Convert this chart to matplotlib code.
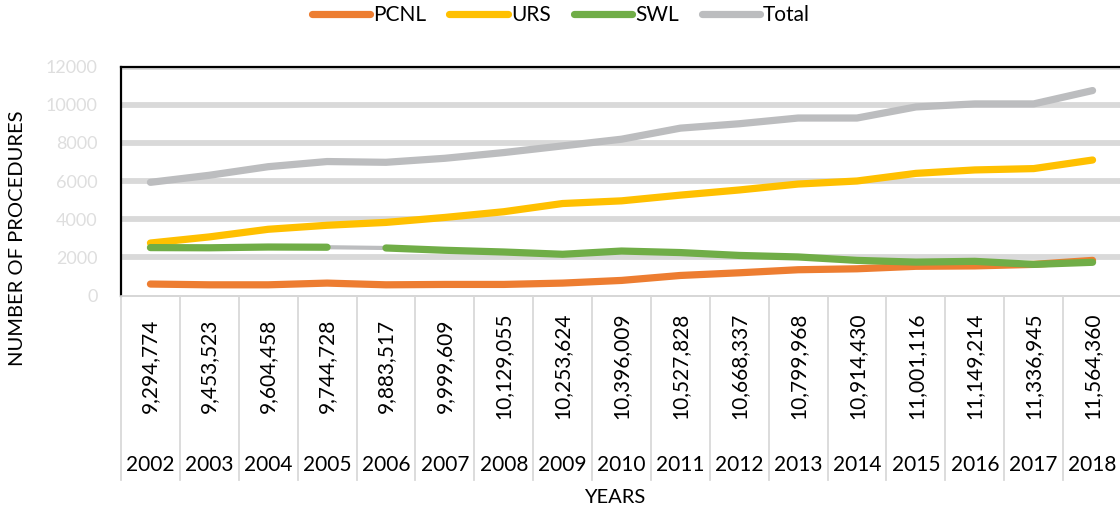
import matplotlib
matplotlib.use("Agg")
import matplotlib.pyplot as plt
from matplotlib.lines import Line2D
from matplotlib.transforms import blended_transform_factory

years = ["2002", "2003", "2004", "2005", "2006", "2007", "2008", "2009", "2010",
         "2011", "2012", "2013", "2014", "2015", "2016", "2017", "2018"]
population = ["9,294,774", "9,453,523", "9,604,458", "9,744,728", "9,883,517",
              "9,999,609", "10,129,055", "10,253,624", "10,396,009", "10,527,828",
              "10,668,337", "10,799,968", "10,914,430", "11,001,116", "11,149,214",
              "11,336,945", "11,564,360"]
pcnl = [600, 560, 560, 650, 560, 580, 580, 650, 790, 1050, 1190, 1350, 1400,
        1530, 1550, 1630, 1840]
urs = [2750, 3070, 3470, 3680, 3830, 4090, 4390, 4820, 4960, 5260, 5530, 5840,
       6000, 6400, 6580, 6650, 7100]
swl = [2510, 2500, 2540, 2530, 2490, 2370, 2280, 2160, 2330, 2250, 2100, 2020,
       1840, 1750, 1790, 1630, 1740]
total = [5930, 6300, 6750, 7020, 6980, 7190, 7490, 7840, 8190, 8770, 9000, 9300,
         9300, 9880, 10040, 10040, 10740]
y_ticks = [0, 2000, 4000, 6000, 8000, 10000, 12000]

plt.rcParams['font.family'] = ['Lato', 'DejaVu Sans']

W, H = 1120, 511
fig = plt.figure(figsize=(W / 100, H / 100), dpi=100)

def fx(x):
    return x / W

def fy(y):
    return 1 - y / H

ax = fig.add_axes([fx(121), fy(295.5), (1122 - 121) / W, (295.5 - 66.5) / H])
x = list(range(len(years)))

C_PCNL, C_URS, C_SWL, C_TOT = "#ED7D31", "#FFC000", "#70AD47", "#BCBDBF"
LW = 5.2

for t in y_ticks:
    if t > 0:
        ax.axhline(t, color="#D9D9D9", lw=4.2, zorder=0.5)

kw = dict(lw=LW, solid_capstyle="round", solid_joinstyle="round")
ax.plot(x, pcnl, color=C_PCNL, zorder=3, **kw)
ax.plot(x, urs, color=C_URS, zorder=4, **kw)
ax.plot(x[3:5], swl[3:5], color=C_TOT, lw=3.0, zorder=4.5)
ax.plot(x[:4], swl[:4], color=C_SWL, zorder=5, **kw)
ax.plot(x[4:], swl[4:], color=C_SWL, zorder=5, **kw)
ax.plot(x, total, color=C_TOT, zorder=6, **kw)

ax.set_xlim(-0.5, len(years) - 0.5)
ax.set_ylim(0, 12000)
ax.set_xticks([])
ax.set_yticks(y_ticks)
ax.set_yticklabels([str(t) for t in y_ticks], color="#DEDEDE", fontsize=13)
ax.tick_params(axis="y", length=0, pad=17)
ax.spines["right"].set_visible(False)
ax.spines["left"].set_color("black")
ax.spines["left"].set_linewidth(1.6)
ax.spines["top"].set_color("black")
ax.spines["top"].set_linewidth(1.6)
ax.spines["bottom"].set_color("#D0D0D0")
ax.spines["bottom"].set_linewidth(1.2)
for s in ax.spines.values():
    s.set_zorder(7)

# category table below axis
tr = blended_transform_factory(ax.transData, fig.transFigure)
for i in range(len(years) + 1):
    fig.add_artist(Line2D([i - 0.5, i - 0.5], [fy(297), fy(480)], transform=tr,
                          color="#D9D9D9", lw=1.3))
for i in x:
    fig.text(i, fy(366), population[i], transform=tr, rotation=90,
             ha="center", va="center", fontsize=15, color="black")
    fig.text(i, fy(465), years[i], transform=tr, ha="center", va="center",
             fontsize=15, color="black")

fig.text(fx(18), fy(238), "NUMBER OF PROCEDURES", rotation=90, ha="center",
         va="center", fontsize=14.5, color="black")
fig.text(fx(615), fy(497), "YEARS", ha="center", va="center", fontsize=14.5,
         color="black")

handles = [Line2D([], [], color=c, lw=LW, solid_capstyle="round")
           for c in (C_PCNL, C_URS, C_SWL, C_TOT)]
fig.legend(handles, ["PCNL", "URS", "SWL", "Total"], loc="center",
           bbox_to_anchor=(fx(561), fy(15)), ncol=4, frameon=False,
           fontsize=15, handlelength=2.8, handletextpad=0.15,
           columnspacing=1.1)

fig.savefig("out.png", dpi=100)
